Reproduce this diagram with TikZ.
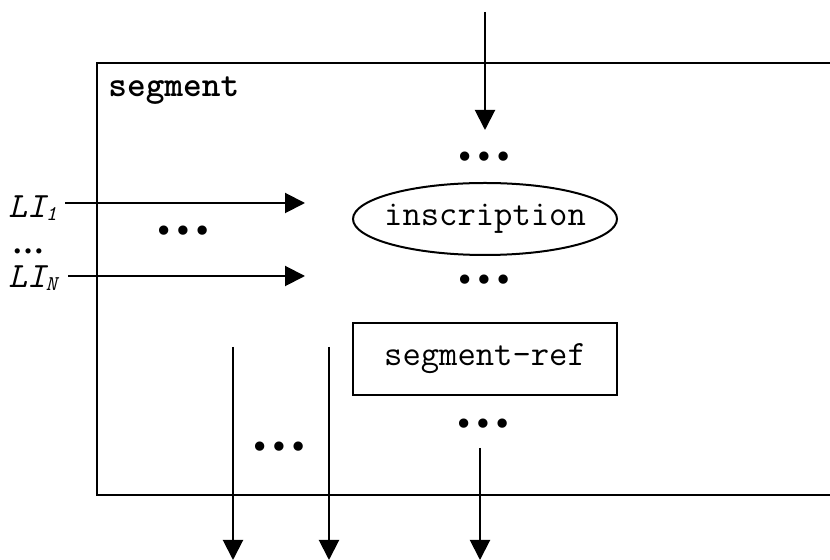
\documentclass[tikz,border=0pt]{standalone}
\usepackage{fontspec}
\newfontfamily\serifdots{Liberation Serif}
\newfontfamily\bulletfont{DejaVu Sans Mono}
\usetikzlibrary{arrows.meta,shapes.geometric}
\begin{document}
\begin{tikzpicture}[x=0.5pt,y=-0.5pt,
  every node/.style={font=\ttfamily\fontsize{17.8}{20}\selectfont, inner sep=0pt},
  ln/.style={line width=1pt},
  arr/.style={line width=1pt,-{Triangle[width=10pt,length=10pt]}},
  dotsnode/.style={font=\bulletfont\fontsize{16}{18}\selectfont},
  lilabel/.style={anchor=base west,font=\ttfamily\itshape\fontsize{17.8}{20}\selectfont}]
\useasboundingbox (0,0) rectangle (830,560);
\clip (0,0) rectangle (830,560);
% segment frame (right side runs off the picture)
\coordinate (bx1) at (97,63);
\coordinate (bx2) at (900,495);
\draw[ln] (bx1) rectangle (bx2);
\node[anchor=base west,font=\ttfamily\bfseries\fontsize{17.8}{20}\selectfont] (seglbl) at (108,97) {segment};
% central column
\node[dotsnode] (d1) at (484,160) {•••};
\node (insc) at (485,219) {inscription};
\draw[ln] (insc.center) ellipse [x radius=66pt, y radius=18pt];
\node[dotsnode] (d2) at (484,283) {•••};
\node[draw,ln,minimum width=132pt,minimum height=36pt] (sref) at (485,359) {segment-ref};
\node[dotsnode] (d3) at (483,427) {•••};
% left inputs
\node[lilabel] (li1) at (8,218) {LI\raisebox{-1.5pt}{\fontsize{10.5}{12}\selectfont 1}};
\node[font=\serifdots\bfseries\fontsize{16}{18}\selectfont] (ell) at (28,251) {…};
\node[lilabel] (lin) at (8,288) {LI\raisebox{-1.5pt}{\fontsize{10.5}{12}\selectfont N}};
\node[dotsnode] (d4) at (183,234) {•••};
\coordinate (in1s) at (65,203);
\coordinate (in1e) at (305,203);
\coordinate (inns) at (68,276);
\coordinate (inne) at (305,276);
\draw[arr] (in1s) -- (in1e);
\draw[arr] (inns) -- (inne);
% top input
\coordinate (tops) at (485,12);
\coordinate (tope) at (485,130);
\draw[arr] (tops) -- (tope);
% bottom outputs
\node[dotsnode] (d5) at (279,450) {•••};
\coordinate (o1s) at (233,347);
\coordinate (o1e) at (233,560);
\coordinate (o2s) at (329,347);
\coordinate (o2e) at (329,560);
\coordinate (o3s) at (480,448);
\coordinate (o3e) at (480,560);
\draw[arr] (o1s) -- (o1e);
\draw[arr] (o2s) -- (o2e);
\draw[arr] (o3s) -- (o3e);
\end{tikzpicture}
\end{document}
